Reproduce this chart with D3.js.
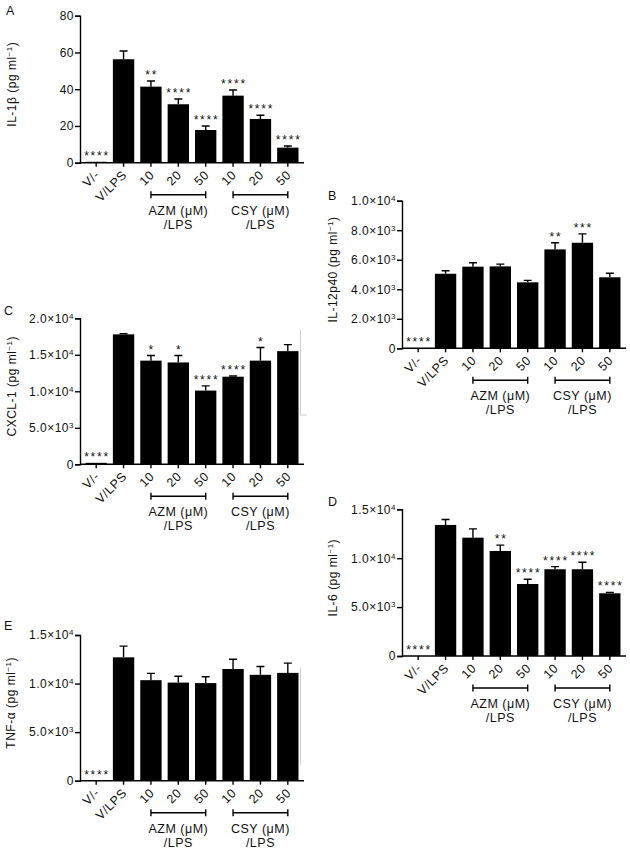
<!DOCTYPE html>
<html>
<head>
<meta charset="utf-8">
<script src="https://cdn.jsdelivr.net/npm/d3@7"></script>
<style>
body { margin: 0; background: #fff; }
svg text { font-family: "Liberation Sans", Arial, sans-serif; fill: #111; letter-spacing: 0.5px; }
</style>
</head>
<body>
<div id="chart"></div>
<script>

// categories along every x axis
const tickLabels = ["V/-", "V/LPS", "10", "20", "50", "10", "20", "50"];
const groupNames = ["AZM (μM)", "CSY (μM)"];
const groupSuffix = "/LPS";
const groupRanges = [[2, 4], [5, 7]];

// A: IL-1b
const il1bValues = [0.5, 56.3, 41.4, 31.8, 17.8, 36.5, 23.8, 8.2];
const il1bErrors = [0, 4.5, 3.1, 2.9, 2.2, 3.1, 2.0, 0.9];
const il1bStars = ["****", "", "**", "****", "****", "****", "****", "****"];
const il1bTicks = [0, 20, 40, 60, 80];

// B: IL-12p40
const il12Values = [0, 5050, 5530, 5550, 4470, 6700, 7150, 4810];
const il12Errors = [0, 200, 270, 150, 130, 450, 600, 270];
const il12Stars = ["****", "", "", "", "", "**", "***", ""];
const il12Ticks = [0, 2000, 4000, 6000, 8000, 10000];

// C: CXCL-1
const cxclValues = [200, 17800, 14200, 13950, 10100, 12000, 14200, 15500];
const cxclErrors = [0, 100, 700, 950, 650, 100, 1800, 900];
const cxclStars = ["****", "", "*", "*", "****", "****", "*", ""];
const cxclTicks = [0, 5000, 10000, 15000, 20000];

// D: IL-6
const il6Values = [0, 13400, 12100, 10740, 7360, 8870, 8870, 6410];
const il6Errors = [0, 550, 900, 600, 480, 270, 720, 100];
const il6Stars = ["****", "", "", "**", "****", "****", "****", "****"];
const il6Ticks = [0, 5000, 10000, 15000];

// E: TNF-a
const tnfValues = [0, 12700, 10350, 10100, 10050, 11500, 10900, 11100];
const tnfErrors = [0, 1150, 700, 650, 650, 1000, 850, 1000];
const tnfStars = ["****", "", "", "", "", "", "", ""];
const tnfTicks = [0, 5000, 10000, 15000];

const width = 630;
const height = 852;

const panels = [
    {id: "A", name: "IL-1β", values: il1bValues, errors: il1bErrors, stars: il1bStars, ticks: il1bTicks, sci: false,
     left: 80, top: 15.7, bottom: 162.7, letterX: 6, letterY: 15, titleX: 16},
    {id: "B", name: "IL-12p40", values: il12Values, errors: il12Errors, stars: il12Stars, ticks: il12Ticks, sci: true,
     left: 402, top: 200.7, bottom: 348.3, letterX: 328, letterY: 200, titleX: 337},
    {id: "C", name: "CXCL-1", values: cxclValues, errors: cxclErrors, stars: cxclStars, ticks: cxclTicks, sci: true,
     left: 80, top: 318.3, bottom: 464.3, letterX: 4, letterY: 315, titleX: 16},
    {id: "D", name: "IL-6", values: il6Values, errors: il6Errors, stars: il6Stars, ticks: il6Ticks, sci: true,
     left: 402, top: 509.3, bottom: 656, letterX: 328, letterY: 506, titleX: 337},
    {id: "E", name: "TNF-α", values: tnfValues, errors: tnfErrors, stars: tnfStars, ticks: tnfTicks, sci: true,
     left: 80, top: 635, bottom: 780.7, letterX: 4, letterY: 630, titleX: 15}
];

const svg = d3.select("#chart")
    .append("svg")
    .attr("width", width)
    .attr("height", height);

// faint scan leftovers in the source figure
svg.append("path")
    .attr("d", "M300.5,330V415H307M300.5,668V765")
    .attr("fill", "none")
    .attr("stroke", "#cfcfcf")
    .attr("stroke-width", 1);

let drawPanel = function(p) {
    const g = svg.append("g");

    const x = d3.scaleBand()
        .domain(d3.range(tickLabels.length))
        .range([p.left + 2.5, p.left + 2.5 + 219])
        .paddingInner(0.22)
        .paddingOuter(0.11);
    const cx = i => x(i) + x.bandwidth() / 2;

    const y = d3.scaleLinear()
        .domain([0, p.ticks[p.ticks.length - 1]])
        .range([p.bottom, p.top]);

    // bars
    g.selectAll("rect.bar")
        .data(p.values)
        .join("rect")
        .attr("class", "bar")
        .attr("x", (d, i) => x(i))
        .attr("y", d => y(d))
        .attr("width", x.bandwidth())
        .attr("height", d => y(0) - y(d))
        .attr("fill", "#000");

    // error bars (upper half only)
    const errs = p.values.map((v, i) => ({i: i, v: v, e: p.errors[i]})).filter(d => d.e > 0);
    g.selectAll("path.err")
        .data(errs)
        .join("path")
        .attr("class", "err")
        .attr("d", d => `M${cx(d.i)},${y(d.v)}V${y(d.v + d.e)}M${cx(d.i) - 4},${y(d.v + d.e)}H${cx(d.i) + 4}`)
        .attr("fill", "none")
        .attr("stroke", "#000")
        .attr("stroke-width", 1.4);

    // significance stars
    g.selectAll("text.star")
        .data(p.stars)
        .join("text")
        .attr("class", "star")
        .attr("x", (d, i) => cx(i) + 0.9)
        .attr("y", (d, i) => y(p.values[i] + p.errors[i]) - 2)
        .attr("text-anchor", "middle")
        .style("font-size", "12px")
        .style("letter-spacing", "1.8px")
        .text(d => d);

    // y axis
    const yAxis = g.append("g")
        .attr("transform", `translate(${p.left},0)`)
        .call(d3.axisLeft(y).tickValues(p.ticks).tickSize(5).tickPadding(1).tickFormat(""));
    yAxis.attr("font-size", 12);
    yAxis.selectAll("path, line").attr("stroke-width", 1.4);
    yAxis.selectAll(".tick text").each(function(d) {
        const t = d3.select(this);
        if (!p.sci || d === 0) {
            t.text(d);
            return;
        }
        const e = Math.floor(Math.log10(d));
        t.append("tspan").text((d / Math.pow(10, e)).toFixed(1) + "×10");
        t.append("tspan").attr("dy", "-4").style("font-size", "8px").text(e);
    });

    // x axis
    g.append("line")
        .attr("x1", p.left)
        .attr("x2", p.left + 224)
        .attr("y1", p.bottom)
        .attr("y2", p.bottom)
        .attr("stroke", "#000")
        .attr("stroke-width", 1.4);

    const xAxis = g.append("g")
        .attr("transform", `translate(0,${p.bottom})`)
        .call(d3.axisBottom(x).tickSize(4).tickSizeOuter(0).tickFormat(i => tickLabels[i]));
    xAxis.select(".domain").remove();
    xAxis.attr("font-size", 12.5);
    xAxis.selectAll("line").attr("stroke-width", 1.4);
    xAxis.selectAll(".tick text")
        .attr("x", 0)
        .attr("y", 0)
        .attr("dy", 0)
        .attr("text-anchor", "end")
        .attr("transform", "translate(4,13) rotate(-45)");

    // treatment brackets
    groupRanges.forEach(function(r, k) {
        const x1 = cx(r[0]), x2 = cx(r[1]);
        const by = p.bottom + 32;
        g.append("path")
            .attr("d", `M${x1},${by - 3.5}V${by + 3.5}M${x1},${by}H${x2}M${x2},${by - 3.5}V${by + 3.5}`)
            .attr("fill", "none")
            .attr("stroke", "#000")
            .attr("stroke-width", 1.4);
        g.append("text")
            .attr("x", (x1 + x2) / 2)
            .attr("y", by + 20)
            .attr("text-anchor", "middle")
            .style("font-size", "12.5px")
            .text(groupNames[k]);
        g.append("text")
            .attr("x", (x1 + x2) / 2)
            .attr("y", by + 34)
            .attr("text-anchor", "middle")
            .style("font-size", "12.5px")
            .text(groupSuffix);
    });

    // panel letter
    g.append("text")
        .attr("x", p.letterX)
        .attr("y", p.letterY)
        .style("font-size", "12.5px")
        .text(p.id);

    // y title
    const title = g.append("text")
        .attr("transform", `translate(${p.titleX},${(p.top + p.bottom) / 2 - 5}) rotate(-90)`)
        .attr("text-anchor", "middle")
        .style("font-size", "12px");
    title.append("tspan").text(p.name + " (pg ml");
    title.append("tspan").attr("dy", -4).style("font-size", "8px").text("−1");
    title.append("tspan").attr("dy", 4).text(")");
}

panels.forEach(drawPanel);

</script>
</body>
</html>
